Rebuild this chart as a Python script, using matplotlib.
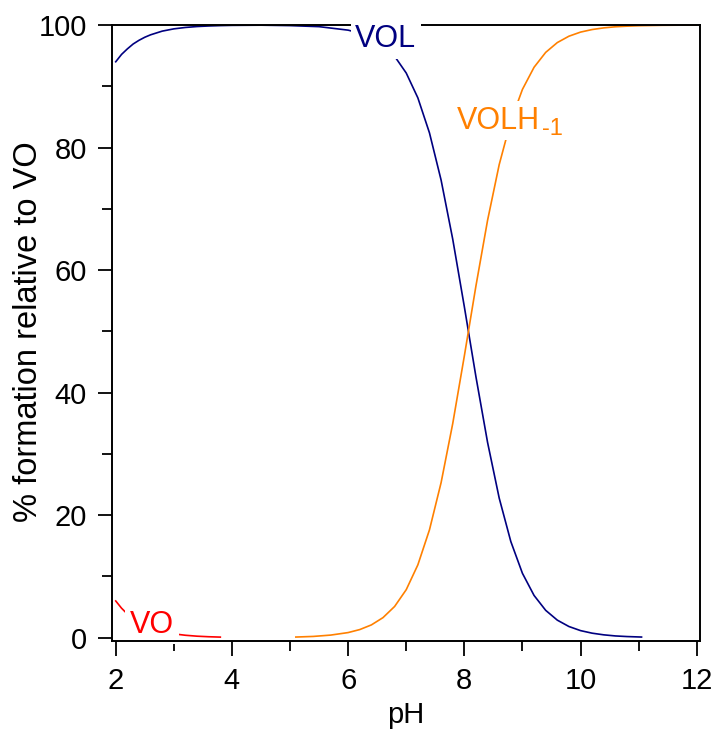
import numpy as np
import matplotlib
matplotlib.use('Agg')
import matplotlib.pyplot as plt
from matplotlib.ticker import MultipleLocator

plt.rcParams['font.family'] = ['Liberation Sans', 'DejaVu Sans']

# Species distribution (% relative to VO)
ph_vo = [2.0, 2.1, 2.2, 2.3, 2.4, 2.5, 2.6, 2.8, 3.0, 3.2, 3.4, 3.6, 3.8]
vo = [6.0, 4.82, 3.87, 3.10, 2.48, 1.98, 1.58, 1.0, 0.63, 0.40, 0.25, 0.16, 0.10]

ph_vol = [2.0, 2.1, 2.2, 2.3, 2.4, 2.5, 2.6, 2.8, 3.0, 3.2, 3.4, 3.6, 3.8, 4.0,
          4.5, 5.0, 5.5, 6.0, 6.2, 6.4, 6.6, 6.8, 7.0, 7.2, 7.4, 7.6, 7.8, 8.0,
          8.2, 8.4, 8.6, 8.8, 9.0, 9.2, 9.4, 9.6, 9.8, 10.0, 10.2, 10.4, 10.6,
          10.8, 11.05]
vol = [94.0, 95.2, 96.1, 96.9, 97.5, 98.0, 98.4, 99.0, 99.37, 99.6, 99.75, 99.84,
       99.9, 99.94, 99.97, 99.9, 99.73, 99.16, 98.67, 97.91, 96.72, 94.90, 92.16,
       88.11, 82.39, 74.69, 65.06, 54.02, 42.57, 31.87, 22.79, 15.70, 10.51, 6.90,
       4.47, 2.87, 1.83, 1.16, 0.74, 0.47, 0.29, 0.19, 0.11]

ph_volh = [5.1, 5.4, 5.7, 6.0, 6.2, 6.4, 6.6, 6.8, 7.0, 7.2, 7.4, 7.6, 7.8, 8.0,
           8.2, 8.4, 8.6, 8.8, 9.0, 9.2, 9.4, 9.6, 9.8, 10.0, 10.2, 10.4, 10.6,
           10.8, 11.0, 11.4, 11.8, 12.0]
volh = [0.11, 0.21, 0.43, 0.84, 1.33, 2.09, 3.28, 5.10, 7.84, 11.89, 17.61, 25.31,
        34.94, 45.98, 57.43, 68.13, 77.21, 84.30, 89.49, 93.10, 95.53, 97.13,
        98.17, 98.84, 99.26, 99.53, 99.71, 99.81, 99.88, 99.95, 99.98, 99.99]

navy = '#000080'
orange = '#FF8000'
red = '#FF0000'

fig = plt.figure(figsize=(7.18, 7.31), dpi=100)
ax = fig.add_axes([0.1556, 0.1235, 0.8194, 0.8423])

ax.plot(ph_vo, vo, color=red, lw=1.2)
ax.plot(ph_vol, vol, color=navy, lw=1.2)
ax.plot(ph_volh, volh, color=orange, lw=1.2)

# species labels sit on white boxes that break the curves
box = dict(boxstyle='square,pad=0.15', fc='white', ec='none')
ax.text(6.12, 96.4, 'VOL', color=navy, fontsize=22, ha='left', va='baseline',
        bbox=box, zorder=3, clip_on=False)
ax.text(7.87, 83.1, 'VOLH', color=orange, fontsize=22, ha='left', va='baseline',
        bbox=box, zorder=3)
ax.text(9.33, 82.0, '-1', color=orange, fontsize=17, ha='left', va='baseline',
        zorder=4)
ax.text(2.246, 0.82, 'VO', color=red, fontsize=22, ha='left', va='baseline',
        bbox=box, zorder=2.1)

ax.set_xlim(1.931, 12.057)
ax.set_ylim(-0.49, 100)
ax.xaxis.set_major_locator(MultipleLocator(2))
ax.xaxis.set_minor_locator(MultipleLocator(1))
ax.yaxis.set_major_locator(MultipleLocator(20))
ax.yaxis.set_minor_locator(MultipleLocator(10))
ax.tick_params(which='both', direction='out', width=1.3, labelsize=21, top=False, right=False)
ax.tick_params(axis='y', which='major', length=10, pad=8)
ax.tick_params(axis='y', which='minor', length=7)
ax.tick_params(axis='x', which='major', length=11, pad=8)
ax.tick_params(axis='x', which='minor', length=7)
for s in ax.spines.values():
    s.set_linewidth(1.4)

ax.set_xlabel('pH', fontsize=21, labelpad=4)
ax.set_ylabel('% formation relative to VO', fontsize=23.5)
ax.yaxis.set_label_coords(-0.115, 0.502)

fig.savefig('out.png', dpi=100)
